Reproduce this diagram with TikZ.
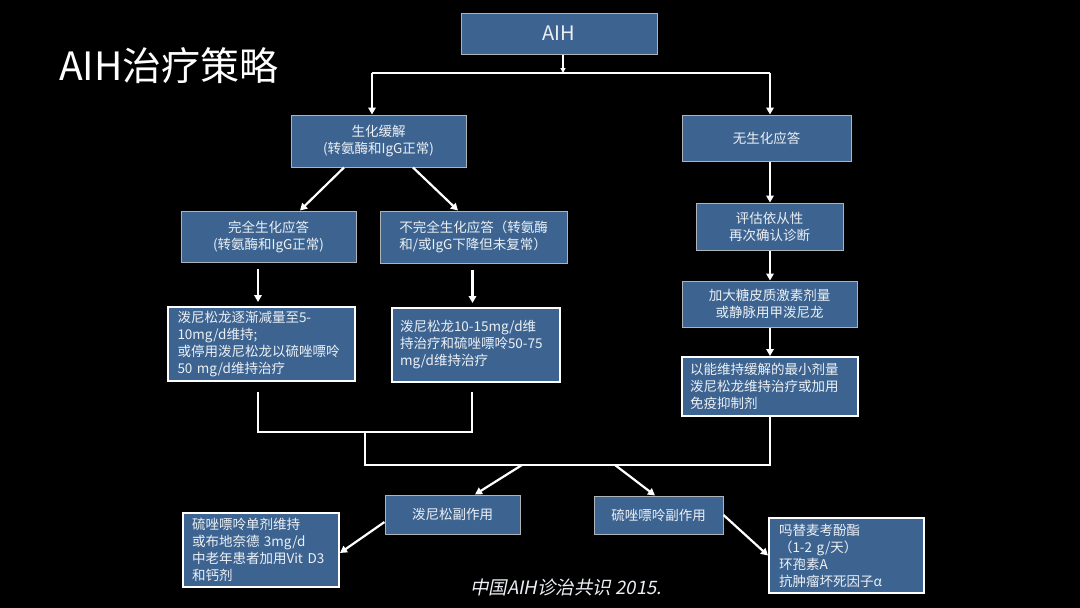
\documentclass[tikz,border=0pt]{standalone}
\usepackage{fontspec}
\setmainfont{Noto Sans CJK SC}
\newfontfamily\footfont[FakeSlant=0.2]{Noto Sans CJK SC}
\usetikzlibrary{arrows.meta}
\definecolor{boxblue}{RGB}{61,100,145}
\definecolor{boxedge}{RGB}{175,180,185}
\definecolor{txt}{RGB}{236,240,245}
\begin{document}
\begin{tikzpicture}[x=1pt,y=-1pt,
  box/.style={draw=boxedge, line width=1pt, fill=boxblue, text=txt,
    font=\fontsize{13.5}{17}\selectfont, align=center, inner sep=0pt},
  wbox/.style={box, draw=white, line width=2pt, align=left},
  arr/.style={draw=white, line width=2.2pt, -{Triangle[length=7pt,width=7.5pt]}},
  arrthin/.style={draw=white, line width=1.4pt, -{Triangle[length=5pt,width=5pt]}},
  ln/.style={draw=white, line width=2.5pt}]
\fill[black] (0,0) rectangle (1080,608);
\useasboundingbox (0,0) rectangle (1080,608);

% title and footer
\node[anchor=west, text=white, inner sep=0pt, font=\fontsize{39}{42}\selectfont] (title) at (59,66) {AIH治疗策略};
\node[anchor=west, text=txt, inner sep=0pt, font=\footfont\fontsize{18.5}{20}\selectfont] (foot) at (470,587) {中国AIH诊治共识 2015.};

% nodes
\node[box, minimum width=196pt, minimum height=41pt, font=\fontsize{20}{22}\selectfont] (aih) at (559,33.5) {AIH};
\node[box, minimum width=175pt, minimum height=52pt] (shx) at (378.5,141) {生化缓解\\(转氨酶和IgG正常)};
\node[box, minimum width=169pt, minimum height=46pt] (wsh) at (766.5,138) {无生化应答};
\node[box, minimum width=175pt, minimum height=51pt] (wq) at (268.5,236.5) {完全生化应答\\(转氨酶和IgG正常)};
\node[box, minimum width=187pt, minimum height=52pt, align=left] (bwq) at (473.5,237) {不完全生化应答（转氨酶\\和/或IgG下降但未复常）};
\node[wbox, text width=168pt, inner xsep=9.5pt, minimum height=74pt] (pn1) at (261.5,344)
  {泼尼松龙逐渐减量至5-\\10mg/d维持;\\或停用泼尼松龙以硫唑嘌呤\\50 mg/d维持治疗};
\node[wbox, text width=152pt, inner xsep=8pt, minimum height=74pt, anchor=north] (pn2) at (476,307)
  {泼尼松龙10-15mg/d维\\持治疗和硫唑嘌呤50-75\\mg/d维持治疗\\[10pt]};
\node[box, minimum width=147pt, minimum height=47pt] (pg) at (769.5,226.5) {评估依从性\\再次确认诊断};
\node[box, minimum width=175pt, minimum height=46pt] (jd) at (769.5,304) {加大糖皮质激素剂量\\或静脉用甲泼尼龙};
\node[wbox, text width=160pt, inner xsep=8pt, minimum height=59pt] (yn) at (770,386.5)
  {以能维持缓解的最小剂量\\泼尼松龙维持治疗或加用\\免疫抑制剂};
\node[box, minimum width=135pt, minimum height=39pt] (pfz) at (452.5,514.5) {泼尼松副作用};
\node[box, minimum width=129pt, minimum height=38pt] (lfz) at (658.5,515) {硫唑嘌呤副作用};
\node[wbox, text width=138pt, inner xsep=9pt, minimum height=74pt] (lo) at (261,550)
  {硫唑嘌呤单剂维持\\或布地奈德 3mg/d\\中老年患者加用Vit D3\\和钙剂};
\node[wbox, text width=135pt, inner xsep=10pt, minimum height=75pt] (ro) at (846.5,555.5)
  {吗替麦考酚酯\\（1-2 g/天）\\环孢素A\\抗肿瘤坏死因子α};

% connectors
\coordinate (hL) at (372,73);
\coordinate (hR) at (770,73);
\coordinate (hM) at (563,73);
\draw[arrthin] (hM |- aih.south) -- (hM);
\draw[ln] (hL) -- (hR);
\draw[arr] (hL) -- (hL |- shx.north);
\draw[arr] (hR) -- (hR |- wsh.north);

\draw[arr] ([xshift=-34.5pt]shx.south) -- ([xshift=31.5pt]wq.north);
\draw[arr] ([xshift=34.5pt]shx.south) -- ([xshift=-15.5pt]bwq.north);

\coordinate (a1) at ([xshift=-10.5pt]wq.south);
\coordinate (a2) at ([xshift=-1pt]bwq.south);
\draw[arr, shorten <=6pt, shorten >=4pt] (a1) -- (a1 |- pn1.north);
\draw[arr, shorten <=6pt, shorten >=4pt] (a2) -- (a2 |- pn2.north);

\draw[arr] (hR |- wsh.south) -- (hR |- pg.north);
\draw[arr] (hR |- pg.south) -- (hR |- jd.north);
\draw[arr] (hR |- jd.south) -- (hR |- yn.north);

\coordinate (b1) at (258,392);
\coordinate (b2) at (472,392);
\coordinate (bm) at (365,432);
\coordinate (hb) at (770,465);
\draw[ln] (b1) -- (b1 |- bm) -- (b2 |- bm) -- (b2);
\draw[ln] (bm) -- (bm |- hb) -- (hb) -- (hb |- yn.south);

\coordinate (s1) at (522,465);
\coordinate (s2) at (615,465);
\draw[arr] (s1) -- ([xshift=22.5pt]pfz.north);
\draw[arr] (s2) -- ([xshift=-3.5pt]lfz.north);
\draw[arr] ([yshift=-7.5pt]pfz.west) -- ([yshift=-3pt]lo.east);
\draw[arr] (lfz.east) -- (ro.west);
\end{tikzpicture}
\end{document}
